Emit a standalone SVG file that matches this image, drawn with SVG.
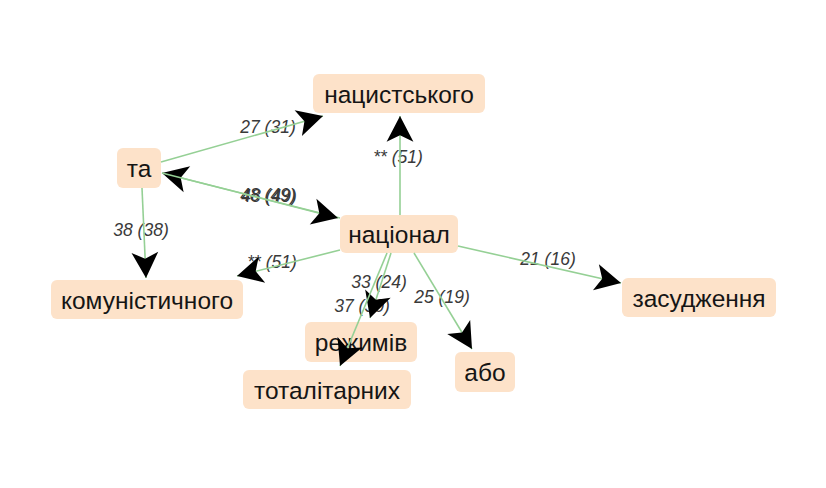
<svg xmlns="http://www.w3.org/2000/svg" width="826" height="488" viewBox="0 0 826 488">
  <defs>
    <style>
      .node rect { fill: #fde2c9; rx: 6px; ry: 6px; }
      .node text { font-family: "Liberation Sans", Arial, sans-serif; font-size: 24.5px; fill: #151515; text-anchor: middle; dominant-baseline: central; }
      .edge { stroke: #95d095; stroke-width: 1.6; fill: none; marker-end: url(#arrow); }
      .elabel { font-family: "Liberation Sans", Arial, sans-serif; font-size: 17.5px; font-style: italic; fill: #3a3a3a; text-anchor: middle; dominant-baseline: central; }
    </style>
    <marker id="arrow" markerUnits="userSpaceOnUse" markerWidth="30" markerHeight="30" refX="0" refY="0" viewBox="-26 -13 28 26" orient="auto" overflow="visible">
      <path d="M0,0 L-24,-12.5 L-18,0 L-24,12.5 Z" fill="#000"/>
    </marker>
  </defs>
  <rect width="826" height="488" fill="#fff"/>

  <g id="node-natsystskoho" class="node"><rect x="313" y="74" width="172" height="39"/><text x="399" y="94">нацистського</text></g>
  <g id="node-ta" class="node"><rect x="117" y="148" width="44" height="40"/><text x="139" y="168">та</text></g>
  <g id="node-natsional" class="node"><rect x="340" y="215" width="118" height="38"/><text x="399" y="234">націонал</text></g>
  <g id="node-komunistychnoho" class="node"><rect x="51" y="280" width="192" height="39"/><text x="147" y="300">комуністичного</text></g>
  <g id="node-rezhymiv" class="node"><rect x="305" y="322" width="112" height="40"/><text x="361" y="342">режимів</text></g>
  <g id="node-totalitarnykh" class="node"><rect x="243" y="370" width="168" height="39"/><text x="327" y="390">тоталітарних</text></g>
  <g id="node-zasudzhennia" class="node"><rect x="622" y="278" width="154" height="39"/><text x="699" y="298">засудження</text></g>
  <g id="node-abo" class="node"><rect x="455" y="352" width="60" height="40"/><text x="485" y="372">або</text></g>

  <g id="connectors">
    <text class="elabel" x="268" y="127">27 (31)</text>
    <text class="elabel" x="268" y="195">48 (49)</text>
    <text class="elabel" x="269" y="196">48 (49)</text>
    <text class="elabel" x="398" y="157">** (51)</text>
    <text class="elabel" x="141" y="230">38 (38)</text>
    <text class="elabel" x="272" y="262">** (51)</text>
    <text class="elabel" x="379" y="282">33 (24)</text>
    <text class="elabel" x="362" y="306">37 (30)</text>
    <text class="elabel" x="442" y="297">25 (19)</text>
    <text class="elabel" x="548" y="259">21 (16)</text>

    <line class="edge" x1="161" y1="162" x2="323" y2="116"/>
    <line class="edge" x1="340" y1="218" x2="162" y2="173"/>
    <line class="edge" x1="162" y1="173" x2="338" y2="218"/>
    <line class="edge" x1="400" y1="215" x2="400" y2="116"/>
    <line class="edge" x1="142" y1="188" x2="146" y2="278"/>
    <line class="edge" x1="340" y1="250" x2="237" y2="276"/>
    <line class="edge" x1="391" y1="253" x2="370" y2="318"/>
    <line class="edge" x1="387" y1="253" x2="340" y2="366"/>
    <line class="edge" x1="414" y1="253" x2="472" y2="349"/>
    <line class="edge" x1="458" y1="246" x2="621" y2="283"/>
  </g>
</svg>
